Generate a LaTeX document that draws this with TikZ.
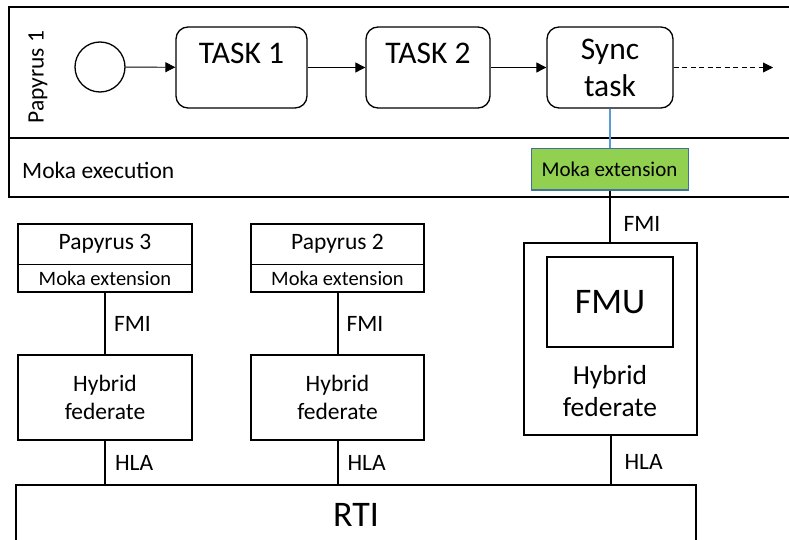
\documentclass[tikz,border=0pt]{standalone}
\usepackage{fontspec}
\setmainfont{Carlito}
\usetikzlibrary{arrows.meta,fit,positioning}
\definecolor{mokagreen}{HTML}{92D050}
\definecolor{mokaedge}{HTML}{41719C}
\definecolor{linkblue}{HTML}{5B9BD5}
\tikzset{
  fs/.style={font=\fontsize{#1}{#1}\selectfont},
  taskbox/.style={draw, line width=1.3pt, rounded corners=12pt, minimum width=#1, minimum height=81pt, inner sep=0pt},
  thinbox/.style={draw, line width=0.9pt, inner sep=0pt},
  thickbox/.style={draw, line width=2pt, inner sep=0pt},
  flow/.style={line width=0.9pt, -{Triangle[length=10pt,width=10pt]}},
  link/.style={line width=2pt},
  lbl/.style={fs=23.5, inner sep=0pt, anchor=west},
}
\begin{document}
\begin{tikzpicture}[x=1pt,y=-1pt]
\useasboundingbox (0,0) rectangle (789,540);
% lane frame
\draw[line width=2pt] (795,7) -- (9,7) -- (9,197) -- (795,197);
\draw[line width=2pt] (9,138) -- (795,138);
\node[fs=23.5, rotate=90, inner sep=0pt] (lane) at (38,77) {Papyrus 1};
\node[fs=23.5, anchor=west, inner sep=0pt] (moexec) at (22,170) {Moka execution};
% BPMN flow
\node[draw, circle, line width=1.3pt, minimum size=50pt, inner sep=0pt] (start) at (100,67) {};
\node[taskbox=131pt] (t1) at (241.5,67.5) {};
\node[fs=31.5, inner sep=0pt] (t1l) at (241.5,53) {TASK 1};
\node[taskbox=124pt] (t2) at (428,67.5) {};
\node[fs=31.5, inner sep=0pt] (t2l) at (428,53) {TASK 2};
\node[taskbox=126pt, align=center, font=\fontsize{31.5}{37}\selectfont] (sync) at (610,67.5) {Sync\\task};
\coordinate (flowend) at (773,67.5);
\draw[flow] (start) -- (t1);
\draw[flow] (t1) -- (t2);
\draw[flow] (t2) -- (sync);
\draw[flow, dash pattern=on 5pt off 3.5pt] (sync) -- (flowend);
% Moka extension (green)
\node[draw=mokaedge, fill=mokagreen, line width=1pt, minimum width=157pt, minimum height=41pt, inner sep=0pt, fs=21] (mext) at (609.5,169.5) {Moka extension};
\draw[linkblue, line width=1.5pt] (sync.south) -- (sync.south |- mext.north);
% right federate
\node[thickbox, minimum width=173pt, minimum height=192pt] (hyb1) at (610.5,339) {};
\node[thickbox, minimum width=126pt, minimum height=90pt, fs=36] (fmu) at (610,302) {FMU};
\node[align=center, font=\fontsize{27.5}{32}\selectfont, inner sep=0pt] (hyb1l) at (610,391) {Hybrid\\federate};
\draw[link] (mext.south) -- (mext.south |- hyb1.north) node[lbl, midway, xshift=13pt, yshift=-8pt] {FMI};
% Papyrus 3
\node[thinbox, minimum width=174pt, minimum height=40pt, fs=23.5] (p3a) at (105,244) {Papyrus 3};
\node[thinbox, minimum width=174pt, minimum height=28pt, fs=20.5] (p3b) at (105,278) {Moka extension};
\node[thickbox, fit=(p3a)(p3b)] (p3) {};
\node[thickbox, minimum width=174pt, minimum height=85pt, align=center, font=\fontsize{23.5}{28}\selectfont] (h3) at (105,397.5) {Hybrid\\federate};
% Papyrus 2
\node[thinbox, minimum width=173pt, minimum height=40pt, fs=23.5] (p2a) at (337.5,244) {Papyrus 2};
\node[thinbox, minimum width=173pt, minimum height=28pt, fs=20.5] (p2b) at (337.5,278) {Moka extension};
\node[thickbox, fit=(p2a)(p2b)] (p2) {};
\node[thickbox, minimum width=173pt, minimum height=85pt, align=center, font=\fontsize{23.5}{28}\selectfont] (h2) at (337.5,397.5) {Hybrid\\federate};
% RTI
\node[thickbox, minimum width=680pt, minimum height=60pt, fs=36] (rti) at (356,515) {RTI};
% links
\draw[link] (p3.south) -- (h3.north) node[lbl, midway, xshift=8pt, yshift=0pt] {FMI};
\draw[link] (p2.south) -- (h2.north) node[lbl, midway, xshift=8pt, yshift=0pt] {FMI};
\draw[link] (h3.south) -- (h3.south |- rti.north) node[lbl, midway, xshift=9pt] {HLA};
\draw[link] (h2.south) -- (h2.south |- rti.north) node[lbl, midway, xshift=9pt] {HLA};
\draw[link] (hyb1.south) -- (hyb1.south |- rti.north) node[lbl, midway, xshift=13pt, yshift=-2pt] {HLA};
\end{tikzpicture}
\end{document}
